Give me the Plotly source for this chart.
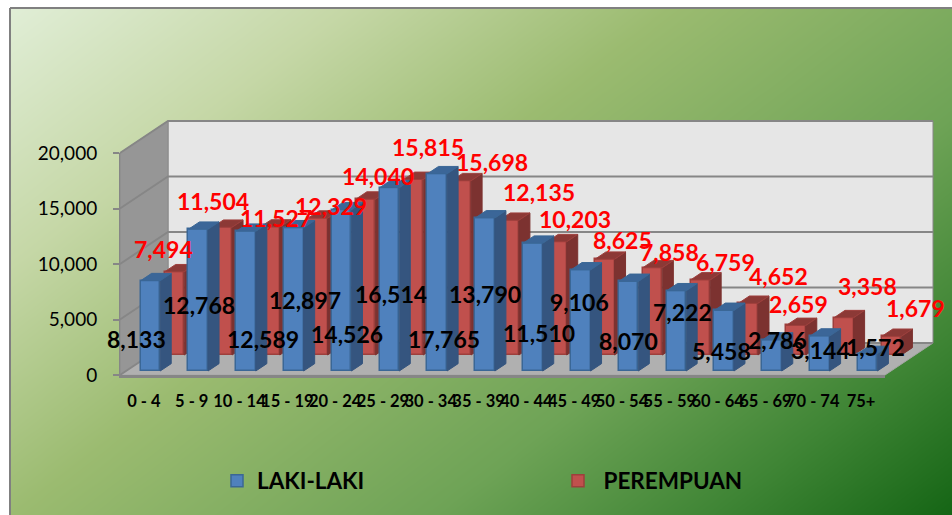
import numpy as np
import plotly.graph_objects as go

# ---------- data ----------
categories = ["0 - 4", "5 - 9", "10 - 14", "15 - 19", "20 - 24", "25 - 29", "30 - 34", "35 - 39",
              "40 - 44", "45 - 49", "50 - 54", "55 - 59", "60 - 64", "65 - 69", "70 - 74", "75+"]
laki_laki = [8133, 12768, 12589, 12897, 14526, 16514, 17765, 13790,
             11510, 9106, 8070, 7222, 5458, 2786, 3144, 1572]
perempuan = [7494, 11504, 11527, 12329, 14040, 15815, 15698, 12135,
             10203, 8625, 7858, 6759, 4652, 2659, 3358, 1679]
y_ticks = [0, 5000, 10000, 15000, 20000]

# ---------- label placement (pixel shift from each bar's category/value point) ----------
black_shift = [(-7, -54), (7, -72), (23, -104), (18, -68), (12, -120), (8, -102), (13, -161), (6, -72),
               (13, -86), (5, -28), (6, -56), (13, -17), (4, -37), (12, 4), (7, -10), (14, 11)]
red_shift = [(20, 43), (21, 46), (36, 29), (44, 32), (43, 43), (45, 52), (61, 39), (60, 48),
             (49, 43), (48, 39), (47, 36), (56, 38), (61, 47), (33, 41), (54, 52), (54, 48)]

# ---------- geometry / style ----------
W, H = 952, 515
PX_L, PX_R, PX_T, PX_B = 120, 885, 153, 375
N = len(categories)
Y_MAX = 20000
# visible axes: the front plane of the box
dom_x = [PX_L / W, PX_R / W]
dom_y = [1 - PX_B / H, 1 - PX_T / H]
# drawing axes: same scale as the visible ones, but large enough for the depth of the box
px_per_cat = (PX_R - PX_L) / N
px_per_val = (PX_B - PX_T) / Y_MAX
big_x_range = [(0 - PX_L) / px_per_cat, (W - PX_L) / px_per_cat]
big_y_range = [(PX_B - H) / px_per_val, (PX_B - 0) / px_per_val]
DX, DY = 1.004, 2883.0          # shift of the whole depth of the box, in axis units
BAR_L, BAR_W, BAR_D = 0.305, 0.41, 0.23
BLUE = dict(front="#4F81BD", line="#3A6796", side="#35557F", top="#3B6698", d=0.125)
RED = dict(front="#C0504D", line="#9E3F3C", side="#7C3230", top="#8C3936", d=0.625)
GRID = "#868686"
FONT = "Lato"


def polys(list_of_pts):
    xs, ys = [], []
    for pts in list_of_pts:
        for px, py in pts + [pts[0]]:
            xs.append(px)
            ys.append(py)
        xs.append(None)
        ys.append(None)
    return xs, ys


def poly_trace(pts, fill, line, xa, ya, width=1):
    xs, ys = polys(pts)
    return go.Scatter(x=xs, y=ys, mode="lines", fill="toself", fillcolor=fill,
                      line=dict(color=line, width=width), xaxis=xa, yaxis=ya,
                      showlegend=False, hoverinfo="skip", cliponaxis=False)


def series_traces(values, name, st, xa, ya):
    d = st["d"]
    out = [go.Bar(x=[i + BAR_L + BAR_W / 2 + d * DX for i in range(N)], y=values,
                  base=[d * DY] * N, width=BAR_W, name=name, xaxis=xa, yaxis=ya,
                  marker=dict(color=st["front"], line=dict(color=st["line"], width=1.5)),
                  hovertext=categories, cliponaxis=False)]
    side, top = [], []
    for i, v in enumerate(values):
        xl = i + BAR_L + d * DX
        xr = xl + BAR_W
        b = d * DY
        t = b + v
        ex, ey = BAR_D * DX, BAR_D * DY
        side.append([(xr, b), (xr, t), (xr + ex, t + ey), (xr + ex, b + ey)])
        top.append([(xl, t), (xr, t), (xr + ex, t + ey), (xl + ex, t + ey)])
    out.append(poly_trace(side, st["side"], st["side"], xa, ya))
    out.append(poly_trace(top, st["top"], st["line"], xa, ya))
    return out


fig = go.Figure()

# background gradient
gx = np.linspace(10, W, 240)
gy = np.linspace(8, H, 130)
GX, GY = np.meshgrid(gx, gy)
T = (GX + 1.3 * GY) / (W + 1.3 * H)
fig.add_trace(go.Heatmap(x=gx, y=gy, z=T, zmin=0, zmax=1, showscale=False, hoverinfo="skip",
                         zsmooth="best", xaxis="x", yaxis="y",
                         colorscale=[[0, "#E2EFD9"], [0.22, "#C5D7A6"], [0.42, "#9BBB70"],
                                     [0.68, "#6EA356"], [0.85, "#3F8535"], [1, "#156515"]]))

# walls, floor and grid
fig.add_trace(poly_trace([[(DX, 0 + DY), (N + DX, DY), (N + DX, Y_MAX + DY), (DX, Y_MAX + DY)]],
                         "#E6E6E6", GRID, "x2", "y2"))
fig.add_trace(poly_trace([[(0, 0), (DX, DY), (DX, Y_MAX + DY), (0, Y_MAX)]], "#969696", "#8A8A8A", "x2", "y2"))
fig.add_trace(poly_trace([[(0, 0), (N, 0), (N + DX, DY), (DX, DY)]], "#B0B0B0", "#A6A6A6", "x2", "y2"))
gxs, gys = [], []
for v in y_ticks:
    gxs += [0, DX, N + DX, None]
    gys += [v, v + DY, v + DY, None]
fig.add_trace(go.Scatter(x=gxs, y=gys, mode="lines", line=dict(color=GRID, width=2), xaxis="x2", yaxis="y2",
                         showlegend=False, hoverinfo="skip", cliponaxis=False))

# bars: legend order follows the trace order
blue_traces = series_traces(laki_laki, "LAKI-LAKI", BLUE, "x4", "y4")
red_traces = series_traces(perempuan, " PEREMPUAN", RED, "x3", "y3")
for tr in blue_traces + red_traces:
    fig.add_trace(tr)

# invisible trace that carries the visible axes
fig.add_trace(go.Scatter(x=[i + 0.5 for i in range(N)], y=laki_laki, mode="none", xaxis="x5", yaxis="y5",
                         showlegend=False, hoverinfo="skip"))

annotations = []
for i, (v, s) in enumerate(zip(perempuan, red_shift)):
    annotations.append(dict(x=i + 0.5, y=v, xref="x5", yref="y5", text=f"{v:,}", showarrow=False,
                            xshift=s[0], yshift=s[1], xanchor="center", yanchor="middle",
                            font=dict(family=FONT, size=23, color="#FF0000", weight="bold")))
for i, (v, s) in enumerate(zip(laki_laki, black_shift)):
    annotations.append(dict(x=i + 0.5, y=v, xref="x5", yref="y5", text=f"{v:,}", showarrow=False,
                            xshift=s[0], yshift=s[1], xanchor="center", yanchor="middle",
                            font=dict(family=FONT, size=23, color="#000000", weight="bold")))

hidden = dict(visible=False, fixedrange=True)
fig.update_layout(
    width=W, height=H, margin=dict(l=0, r=0, t=0, b=0, autoexpand=False),
    paper_bgcolor="white", plot_bgcolor="rgba(0,0,0,0)",
    font=dict(family=FONT, color="black"),
    xaxis=dict(domain=[10 / W, 1], range=[10, W], **hidden),
    yaxis=dict(domain=[0, 1 - 8 / H], range=[H, 8], **hidden),
    xaxis2=dict(domain=[0, 1], range=big_x_range, anchor="y2", **hidden),
    yaxis2=dict(domain=[0, 1], range=big_y_range, anchor="x2", **hidden),
    xaxis3=dict(domain=[0, 1], range=big_x_range, anchor="y3", **hidden),
    yaxis3=dict(domain=[0, 1], range=big_y_range, anchor="x3", **hidden),
    xaxis4=dict(domain=[0, 1], range=big_x_range, anchor="y4", **hidden),
    yaxis4=dict(domain=[0, 1], range=big_y_range, anchor="x4", **hidden),
    xaxis5=dict(domain=dom_x, range=[0, N], anchor="y5", tickmode="array",
                tickvals=[i + 0.5 for i in range(N)], ticktext=categories, tickangle=0,
                ticks="outside", ticklen=9, tickcolor="rgba(0,0,0,0)",
                tickfont=dict(family=FONT, size=16.5, color="black", weight="bold"),
                showline=True, linecolor=GRID, linewidth=3, showgrid=False, zeroline=False, fixedrange=True),
    yaxis5=dict(domain=dom_y, range=[0, Y_MAX], anchor="x5", tickmode="array", tickvals=y_ticks,
                tickformat=",", ticks="outside", ticklen=6, tickcolor=GRID, tickwidth=2,
                ticklabelstandoff=12, tickfont=dict(family=FONT, size=19, color="black"),
                showline=True, linecolor=GRID, linewidth=1, showgrid=False, zeroline=False, fixedrange=True),
    legend=dict(orientation="h", x=217 / W, y=1 - 481 / H, xanchor="left", yanchor="middle",
                bgcolor="rgba(0,0,0,0)", entrywidth=296, entrywidthmode="pixels",
                font=dict(family=FONT, size=22.5, color="black", weight="bold"), traceorder="normal",
                itemclick=False, itemdoubleclick=False),
    annotations=annotations,
    shapes=[
        dict(type="line", xref="paper", yref="paper", x0=10 / W, x1=10 / W, y0=0, y1=1 - 8 / H,
             line=dict(color="#808080", width=2)),
        dict(type="line", xref="paper", yref="paper", x0=10 / W, x1=1, y0=1 - 8 / H, y1=1 - 8 / H,
             line=dict(color="#808080", width=2)),
    ],
    bargap=0,
)

fig.write_html("out.html", config=dict(displayModeBar=False),
               post_script="document.body.style.margin='0';document.body.style.overflow='hidden';")
